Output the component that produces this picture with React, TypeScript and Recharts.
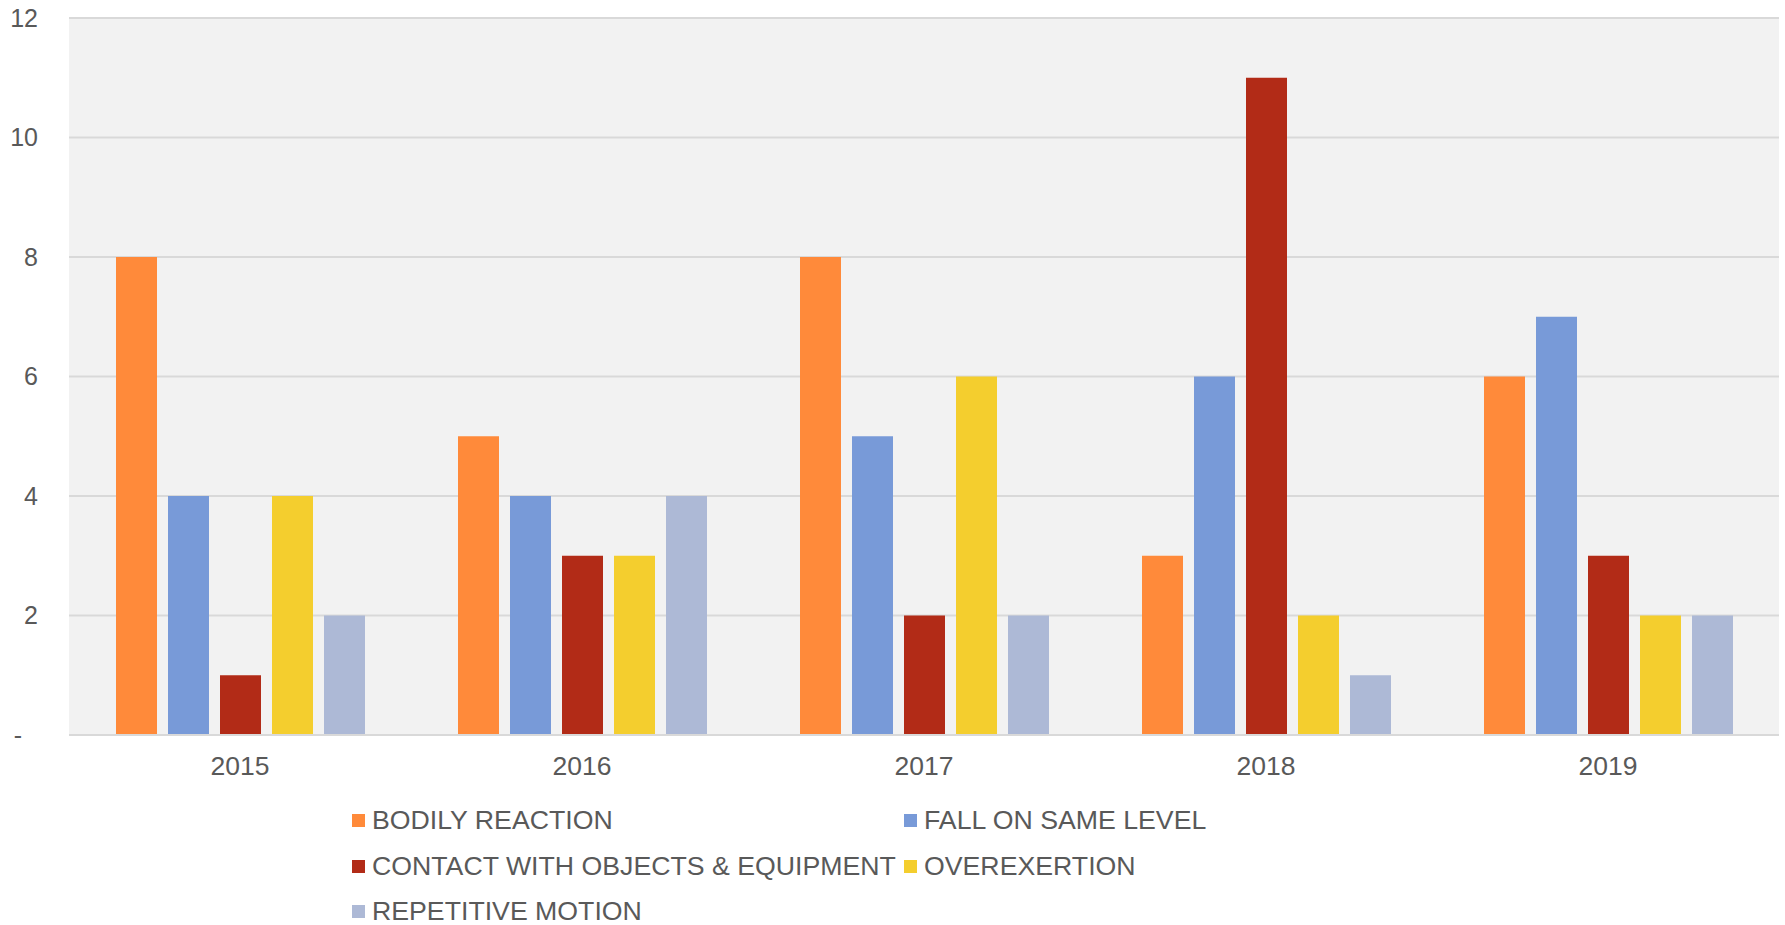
import React from 'react';
import { BarChart, Bar, XAxis, YAxis, CartesianGrid, Legend } from 'recharts';

const years = ['2015', '2016', '2017', '2018', '2019'];
const bodilyReaction = [8, 5, 8, 3, 6];
const fallOnSameLevel = [4, 4, 5, 6, 7];
const contactWithObjects = [1, 3, 2, 11, 3];
const overexertion = [4, 3, 6, 2, 2];
const repetitiveMotion = [2, 4, 2, 1, 2];
const yTicks = [0, 2, 4, 6, 8, 10, 12];

const seriesList = [
  { key: 'bodily', name: 'BODILY REACTION', color: '#FF8A3A', values: bodilyReaction },
  { key: 'fall', name: 'FALL ON SAME LEVEL', color: '#789AD8', values: fallOnSameLevel },
  { key: 'contact', name: 'CONTACT WITH OBJECTS & EQUIPMENT', color: '#B22B17', values: contactWithObjects },
  { key: 'over', name: 'OVEREXERTION', color: '#F4CE2E', values: overexertion },
  { key: 'rep', name: 'REPETITIVE MOTION', color: '#ADB9D6', values: repetitiveMotion },
];

const data = years.map((year, i) => {
  const row: Record<string, string | number> = { year };
  seriesList.forEach((s) => {
    row[s.key] = s.values[i];
  });
  return row;
});

const textColor = '#595959';
const gridColor = '#D9D9D9';
const fontFamily = '"Liberation Sans", Arial, sans-serif';

// zero is shown as an accounting-style dash, a bit further left
function YTick(props: any) {
  const { x, y, payload } = props;
  const isZero = payload.value === 0;
  return (
    <text
      x={isZero ? x - 16 : x}
      y={y}
      dy="0.35em"
      textAnchor="end"
      fill={textColor}
      fontSize={25}
      fontFamily={fontFamily}
    >
      {isZero ? '-' : payload.value}
    </text>
  );
}

function LegendContent() {
  return (
    <div
      style={{
        display: 'grid',
        gridTemplateColumns: '552px auto',
        gridAutoRows: '45.5px',
        fontFamily,
        fontSize: 26.7,
        color: textColor,
      }}
    >
      {seriesList.map((s) => (
        <div key={s.key} style={{ display: 'flex', alignItems: 'center', whiteSpace: 'nowrap' }}>
          <span
            style={{
              display: 'inline-block',
              width: 13,
              height: 13,
              background: s.color,
              marginRight: 7,
            }}
          />
          <span>{s.name}</span>
        </div>
      ))}
    </div>
  );
}

export default function App() {
  return (
    <div style={{ position: 'absolute', left: 0, top: 0, width: 1785, height: 925, background: '#fff' }}>
      <BarChart
        width={1785}
        height={925}
        data={data}
        margin={{ top: 18, right: 6, left: 8, bottom: 140 }}
        barSize={41}
        barGap={11}
      >
        <CartesianGrid vertical={false} stroke={gridColor} strokeWidth={2} fill="#F2F2F2" />
        <XAxis
          dataKey="year"
          axisLine={{ stroke: gridColor, strokeWidth: 2 }}
          tickLine={false}
          tickSize={0}
          tickMargin={21}
          tick={{ fontSize: 26.5, fill: textColor, fontFamily }}
          height={50}
        />
        <YAxis
          width={61}
          domain={[0, 12]}
          ticks={yTicks}
          axisLine={false}
          tickLine={false}
          tickSize={0}
          tickMargin={31}
          tick={<YTick />}
        />
        <Legend
          layout="horizontal"
          verticalAlign="middle"
          align="center"
          content={<LegendContent />}
          wrapperStyle={{ left: 352, top: 798, width: 1000, height: 127 }}
        />
        {seriesList.map((s) => (
          <Bar key={s.key} dataKey={s.key} name={s.name} fill={s.color} isAnimationActive={false} />
        ))}
      </BarChart>
    </div>
  );
}
